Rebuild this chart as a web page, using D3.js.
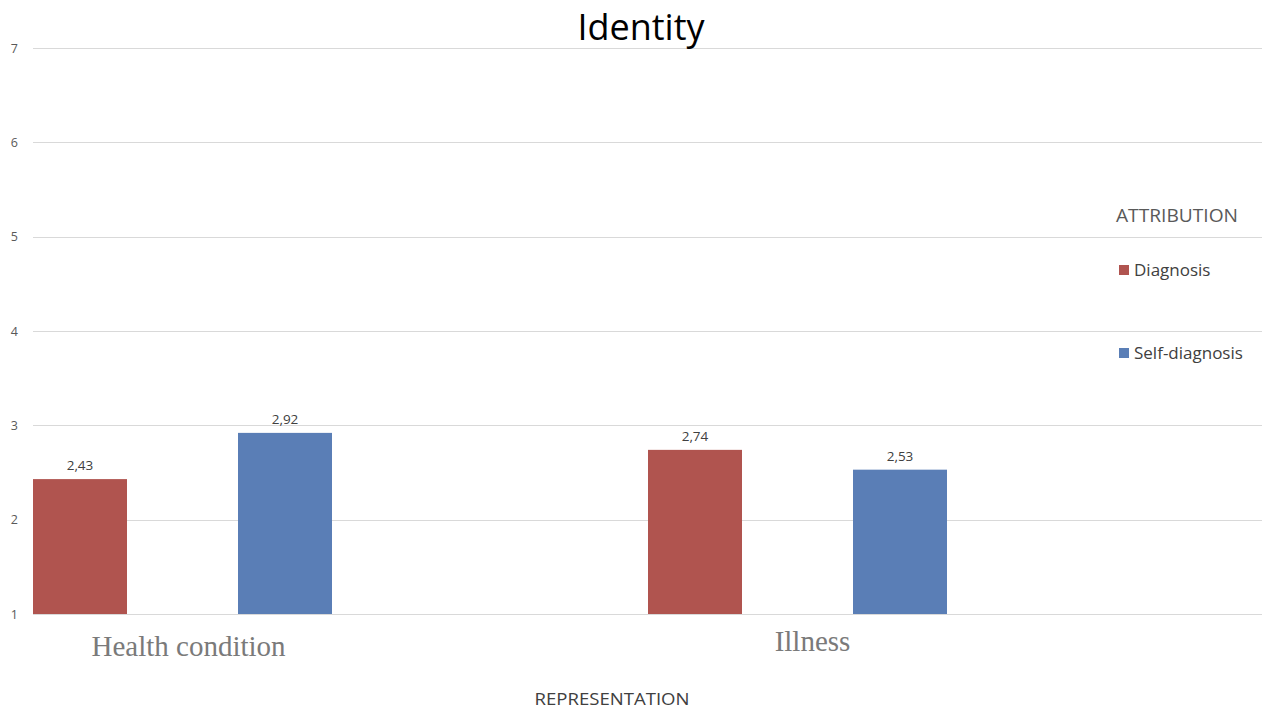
<!DOCTYPE html>
<html>
<head>
<meta charset="utf-8">
<script src="https://cdn.jsdelivr.net/npm/d3@7"></script>
<style>
  html, body { margin: 0; padding: 0; background: #fff; }
  svg { display: block; }
</style>
</head>
<body>
<svg id="chart" width="1262" height="711"></svg>
<script>
// Mean "Identity" scores by representation and attribution
const categories = ["Health condition", "Illness"];
const seriesNames = ["Diagnosis", "Self-diagnosis"];
const diagnosisValues = [2.43, 2.74];
const selfDiagnosisValues = [2.92, 2.53];
const yTicks = [1, 2, 3, 4, 5, 6, 7];
const seriesColors = ["#B0544F", "#5A7EB6"];

const rows = categories.map((c, i) => ({
  category: c,
  values: [diagnosisValues[i], selfDiagnosisValues[i]]
}));

const svg = d3.select("#chart");
const W = 1262;
const sans = "'Open Sans', 'Liberation Sans', sans-serif";

const y = d3.scaleLinear().domain([1, 7]).range([614, 48]);

// Group scale: plot area is wider than the visible frame on the left
const x0 = d3.scaleBand().domain(categories).range([-125, 1105]).paddingInner(0).paddingOuter(0);
const x1 = d3.scaleBand().domain(seriesNames).range([158, 457]).paddingInner(0.5415).paddingOuter(0);

const fmt = v => d3.format(".2f")(v).replace(".", ",");

// Gridlines
svg.append("g")
  .selectAll("line")
  .data(yTicks)
  .join("line")
  .attr("x1", 33).attr("x2", W)
  .attr("y1", d => Math.round(y(d)) + 0.5)
  .attr("y2", d => Math.round(y(d)) + 0.5)
  .attr("stroke", "#d9d9d9")
  .attr("stroke-width", 1);

// Y axis labels
const yAxis = d3.axisLeft(y).tickValues(yTicks).tickFormat(d3.format("d")).tickSize(0).tickPadding(0);
const yg = svg.append("g").attr("transform", "translate(18,0)").call(yAxis);
yg.select(".domain").remove();
yg.selectAll("text")
  .attr("font-family", sans)
  .attr("font-size", 12.5)
  .attr("fill", "#595959");

// Bars
const groups = svg.append("g")
  .selectAll("g")
  .data(rows)
  .join("g")
  .attr("transform", d => `translate(${x0(d.category)},0)`);

groups.selectAll("rect")
  .data(d => d.values.map((v, i) => ({ name: seriesNames[i], value: v, i })))
  .join("rect")
  .attr("x", d => x1(d.name))
  .attr("width", x1.bandwidth())
  .attr("y", d => y(d.value))
  .attr("height", d => y(1) - y(d.value))
  .attr("fill", d => seriesColors[d.i]);

groups.selectAll("text.val")
  .data(d => d.values.map((v, i) => ({ name: seriesNames[i], value: v })))
  .join("text")
  .attr("class", "val")
  .attr("x", d => x1(d.name) + x1.bandwidth() / 2)
  .attr("y", d => y(d.value) - 9)
  .attr("text-anchor", "middle")
  .attr("font-family", sans)
  .attr("font-size", 13.5)
  .attr("fill", "#404040")
  .text(d => fmt(d.value));

// Category labels (serif)
const catPos = [{ dx: 6, y: 656 }, { dx: 15, y: 651 }];
svg.append("g")
  .selectAll("text")
  .data(categories)
  .join("text")
  .attr("x", (d, i) => x0(d) + x0.bandwidth() / 2 + catPos[i].dx)
  .attr("y", (d, i) => catPos[i].y)
  .attr("text-anchor", "middle")
  .attr("font-family", "'Liberation Serif', 'DejaVu Serif', serif")
  .attr("font-size", 29)
  .attr("fill", "#7a7a7a")
  .text(d => d);

// Axis title
svg.append("text")
  .attr("x", 612).attr("y", 705)
  .attr("text-anchor", "middle")
  .attr("font-family", sans)
  .attr("font-size", 17)
  .attr("textLength", 155)
  .attr("lengthAdjust", "spacingAndGlyphs")
  .attr("fill", "#404040")
  .text("REPRESENTATION");

// Chart title
svg.append("text")
  .attr("x", 641).attr("y", 40)
  .attr("text-anchor", "middle")
  .attr("font-family", sans)
  .attr("font-size", 36)
  .attr("fill", "#000")
  .text("Identity");

// Legend
const legend = svg.append("g");
legend.append("text")
  .attr("x", 1116).attr("y", 222)
  .attr("font-family", sans)
  .attr("font-size", 18.5)
  .attr("textLength", 122)
  .attr("lengthAdjust", "spacingAndGlyphs")
  .attr("fill", "#595959")
  .text("ATTRIBUTION");

const legY = [270, 353];
const items = legend.selectAll("g.item")
  .data(seriesNames)
  .join("g")
  .attr("class", "item")
  .attr("transform", (d, i) => `translate(1119,${legY[i]})`);
items.append("rect")
  .attr("x", 0).attr("y", -5)
  .attr("width", 10).attr("height", 10)
  .attr("fill", (d, i) => seriesColors[i]);
items.append("text")
  .attr("x", 15).attr("y", 6)
  .attr("font-family", sans)
  .attr("font-size", 17)
  .attr("fill", "#404040")
  .text(d => d);
</script>
</body>
</html>
